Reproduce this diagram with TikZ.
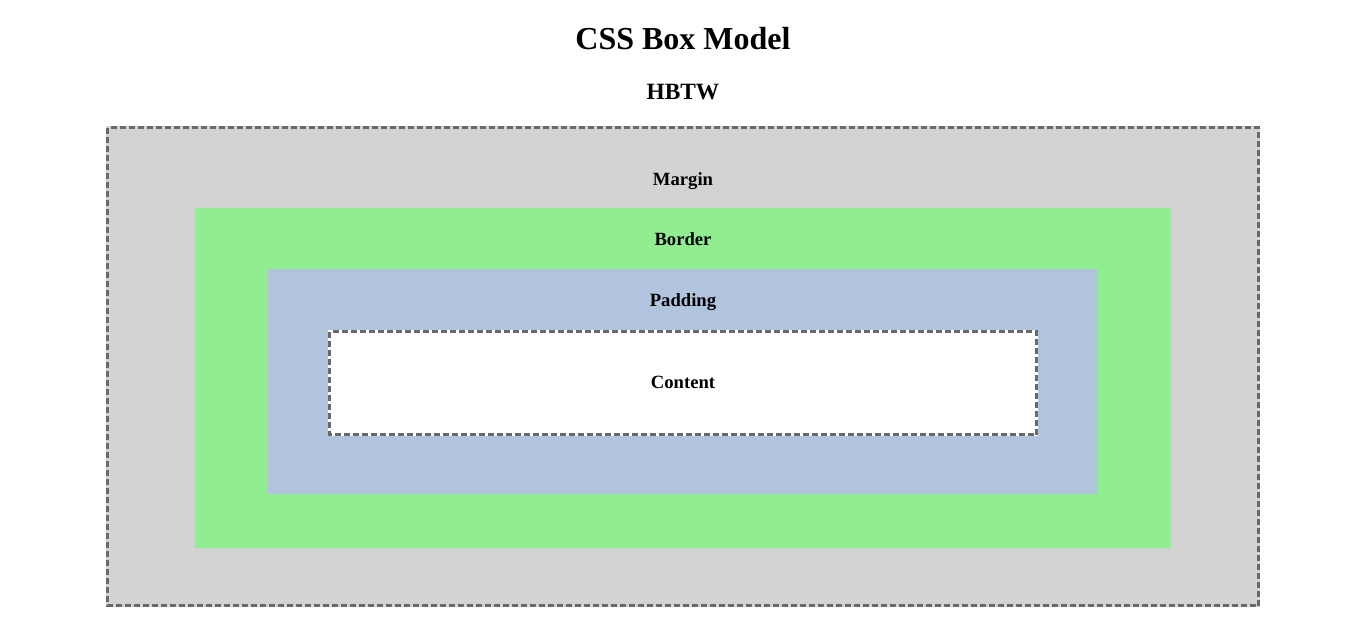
\documentclass[tikz,border=0pt]{standalone}
\usepackage{fontspec}
\setmainfont{Liberation Serif}
\definecolor{marginc}{HTML}{D3D3D3}
\definecolor{borderc}{HTML}{90EE90}
\definecolor{paddingc}{HTML}{B0C4DE}
\definecolor{dashc}{HTML}{696969}
\tikzset{
  dashedge/.style={draw=dashc, line width=2.25pt, dash pattern=on 4.5pt off 2.25pt},
  lbl/.style={anchor=base, inner sep=0pt, font=\bfseries\fontsize{14pt}{16pt}\selectfont},
}
\begin{document}
\begin{tikzpicture}[x=0.75pt, y=-0.75pt]
\useasboundingbox (0,0) rectangle (1366,628);
\fill[white] (0,0) rectangle (1366,628);
% margin box
\fill[marginc] (106,126) rectangle (1260,607);
\draw[dashedge] (107.5,127.5) rectangle (1258.5,605.5);
% border box
\fill[borderc] (195,208) rectangle (1171,548);
% padding box
\fill[paddingc] (268,269) rectangle (1098,494);
% content box
\fill[white] (328,330) rectangle (1038,436);
\draw[dashedge] (329.5,331.5) rectangle (1036.5,434.5);
% texts
\node[anchor=base, inner sep=0pt, font=\bfseries\fontsize{24pt}{28pt}\selectfont] (title) at (683,49.3) {CSS Box Model};
\node[anchor=base, inner sep=0pt, font=\bfseries\fontsize{17.5pt}{20pt}\selectfont] (sub) at (683,99.3) {HBTW};
\node[lbl] (margin) at (683,185.3) {Margin};
\node[lbl] (border) at (683,245.3) {Border};
\node[lbl] (padding) at (683,306) {Padding};
\node[lbl] (content) at (683,388) {Content};
\end{tikzpicture}
\end{document}
